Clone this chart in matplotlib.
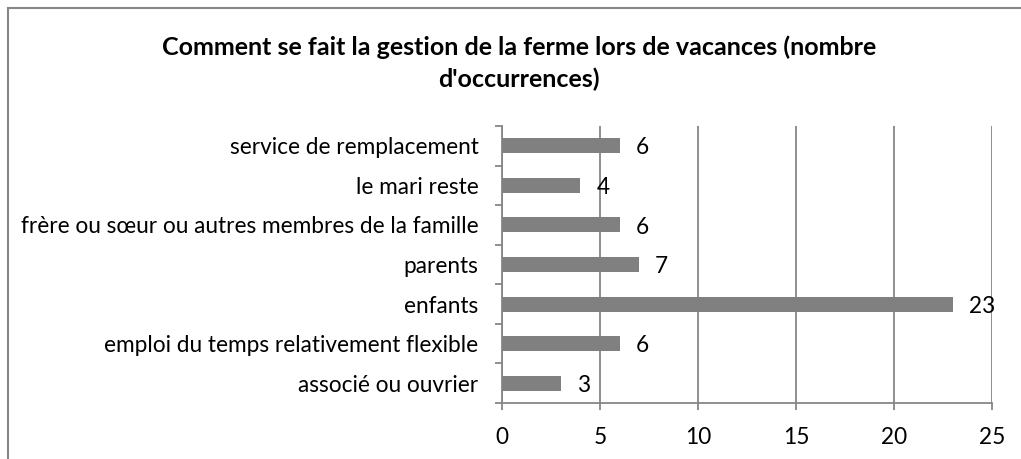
import matplotlib.pyplot as plt
from matplotlib.lines import Line2D

# --------------------
# Data
# --------------------
categories = [
    "associé ou ouvrier",
    "emploi du temps relativement flexible",
    "enfants",
    "parents",
    "frère ou sœur ou autres membres de la famille",
    "le mari reste",
    "service de remplacement",
]
values = [3, 6, 23, 7, 6, 4, 6]
x_ticks = [0, 5, 10, 15, 20, 25]

TITLE = "Comment se fait la gestion de la ferme lors de vacances (nombre\nd'occurrences)"
GRAY = "#868686"
W, H = 1021, 459
FS = 16.3

plt.rcParams['font.family'] = ['Lato', 'DejaVu Sans']

fig = plt.figure(figsize=(W / 100, H / 100), dpi=100)
# plot area in pixels: x 502..992, y 126..403
ax = fig.add_axes([502 / W, 1 - 403 / H, 490 / W, 277 / H])

ypos = list(range(len(categories)))
ax.barh(ypos, values, height=0.38, color="#808080", zorder=3)
for y, v in zip(ypos, values):
    ax.annotate(str(v), (v, y), xytext=(11.5, -1.5), textcoords="offset points",
                va="center", ha="left", fontsize=FS, zorder=4)

ax.set_xlim(0, 25)
ax.set_ylim(-0.5, len(categories) - 0.5)
ax.set_xticks(x_ticks)
ax.set_yticks(ypos)
ax.set_yticklabels(categories)
ax.set_yticks([y + 0.5 for y in range(-1, len(categories))], minor=True)

ax.grid(axis="x", color=GRAY, linewidth=1.3, zorder=0)
for s in ["top", "right"]:
    ax.spines[s].set_visible(False)
for s in ["left", "bottom"]:
    ax.spines[s].set_color(GRAY)
    ax.spines[s].set_linewidth(1.3)

ax.tick_params(axis="y", which="major", length=0, pad=17, labelsize=FS)
ax.tick_params(axis="y", which="minor", length=5, color=GRAY, width=1.3)
ax.tick_params(axis="x", length=5, color=GRAY, width=1.3, labelsize=FS, pad=12)

fig.text(519 / W, 1 - 63 / H, TITLE, ha="center", va="center",
         fontsize=18, fontweight="bold", linespacing=1.45)

# chart border (top and left only, rest is cropped)
fig.add_artist(Line2D([8 / W, 1], [1 - 8 / H] * 2, color=GRAY, linewidth=1.5, transform=fig.transFigure))
fig.add_artist(Line2D([8 / W] * 2, [0, 1 - 8 / H], color=GRAY, linewidth=1.5, transform=fig.transFigure))

fig.savefig("out.png", dpi=100)
